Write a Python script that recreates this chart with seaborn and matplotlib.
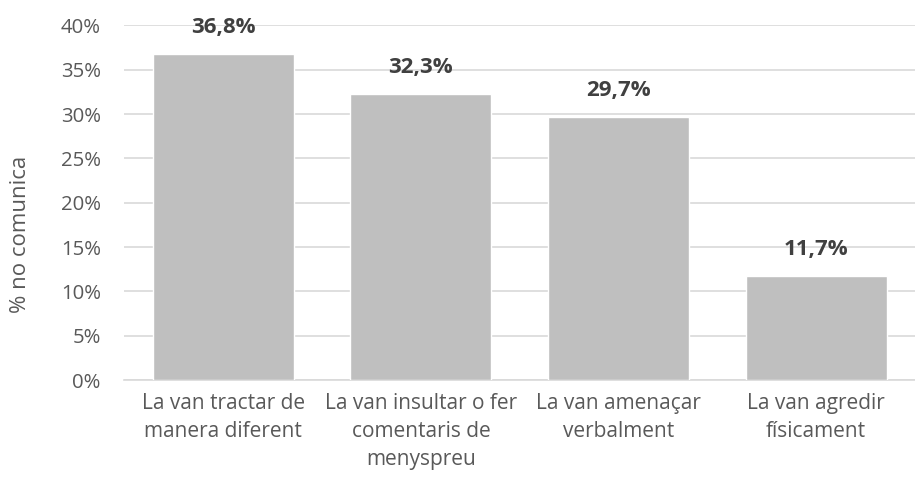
import numpy as np
import matplotlib.pyplot as plt
import seaborn as sns
from matplotlib.ticker import FuncFormatter

# ── DONNÉES ───────────────────────────────────────────────────────
categories = ['La van tractar de\nmanera diferent',
              'La van insultar o fer\ncomentaris de\nmenyspreu',
              'La van amenaçar\nverbalment',
              'La van agredir\nfísicament']
valeurs = [36.8, 32.3, 29.7, 11.7]
etiquettes = ['36,8%', '32,3%', '29,7%', '11,7%']
yticks = [0, 5, 10, 15, 20, 25, 30, 35, 40]

sns.set_theme(style='white')
plt.rcParams['font.family'] = ['Open Sans', 'DejaVu Sans']

fig, ax = plt.subplots(figsize=(9.15, 4.8), dpi=100)
fig.subplots_adjust(left=0.136, right=1.0, top=0.947, bottom=0.208)

sns.barplot(x=categories, y=valeurs, color='#bfbfbf', saturation=1,
            width=0.714, ax=ax, zorder=3)

# étiquettes au-dessus des barres
for i, (v, txt) in enumerate(zip(valeurs, etiquettes)):
    ax.text(i, v + 3.0, txt, ha='center', va='center', fontsize=16,
            fontweight='bold', color='#404040')

ax.set_ylim(0, 40)
ax.set_xlim(-0.5, 3.5)
ax.set_yticks(yticks)
ax.yaxis.set_major_formatter(FuncFormatter(lambda y, _: f'{int(y)}%'))
ax.grid(axis='y', color='#d9d9d9', linewidth=1.2, zorder=0)
ax.set_axisbelow(True)
for s in ['top', 'right', 'left']:
    ax.spines[s].set_visible(False)
ax.spines['bottom'].set_color('#d9d9d9')
ax.spines['bottom'].set_linewidth(1.2)

ax.tick_params(axis='both', length=0, labelsize=14.7, colors='#595959')
ax.tick_params(axis='x', pad=9)
ax.tick_params(axis='y', pad=17)
for lab in ax.get_xticklabels():
    lab.set_fontsize(15)
    lab.set_linespacing(1.45)
ax.set_ylabel('% no comunica', fontsize=16, color='#595959')
ax.yaxis.set_label_coords(-0.118, 0.41)
ax.set_xlabel('')

plt.savefig('out.png', dpi=100)
